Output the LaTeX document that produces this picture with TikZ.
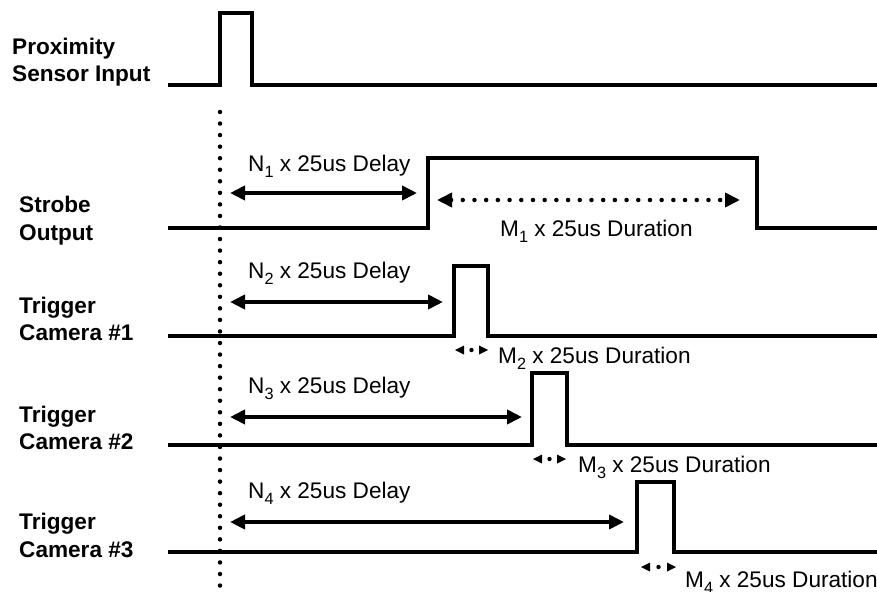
\documentclass[tikz,border=0pt]{standalone}
\usepackage{fontspec}
\setmainfont{Liberation Sans}
\usetikzlibrary{arrows.meta}
\newcommand\mysub[1]{\raisebox{-0.3em}{\scalebox{0.72}{#1}}}
\begin{document}
\begin{tikzpicture}[x=1pt,y=-1pt,
  sig/.style={line width=4pt,miter limit=10},
  lbl/.style={anchor=base west,inner sep=0pt,font=\fontsize{22.6}{27}\selectfont\bfseries},
  note/.style={anchor=base west,inner sep=0pt,font=\fontsize{22.6}{27}\selectfont},
  delay/.style={line width=4pt,{Triangle[length=15pt,width=14pt]}-{Triangle[length=15pt,width=14pt]}},
  durdots/.style={line width=4.5pt,line cap=round,dash pattern=on 0pt off 11.7pt,
    {Triangle[length=15pt,width=14pt]}-{Triangle[length=15pt,width=14pt]}},
  refline/.style={line width=4.5pt,line cap=round,dash pattern=on 0pt off 11.55pt}]
\useasboundingbox (0,0) rectangle (877,591);
\clip (0,0) rectangle (877,591);
\fill[white] (0,0) rectangle (877,591);

% left labels
\node[lbl] (l1a) at (12,55) {Proximity};
\node[lbl] (l1b) at (12,82) {Sensor Input};
\node[lbl] (l2a) at (19,212) {Strobe};
\node[lbl] (l2b) at (19,240) {Output};
\node[lbl] (l3a) at (19,313) {Trigger};
\node[lbl] (l3b) at (19,340) {Camera \#1};
\node[lbl] (l4a) at (19,422) {Trigger};
\node[lbl] (l4b) at (19,449) {Camera \#2};
\node[lbl] (l5a) at (19,529) {Trigger};
\node[lbl] (l5b) at (19,557) {Camera \#3};

% signals
\draw[sig] (168,85) -- (220,85) -- (220,13) -- (252,13) -- (252,85) -- (880,85);
\draw[sig] (168,228) -- (428,228) -- (428,158) -- (757,158) -- (757,228) -- (880,228);
\draw[sig] (168,336) -- (454,336) -- (454,266) -- (488,266) -- (488,336) -- (880,336);
\draw[sig] (168,445) -- (532,445) -- (532,373) -- (567,373) -- (567,445) -- (880,445);
\draw[sig] (168,552) -- (637,552) -- (637,482) -- (674,482) -- (674,552) -- (880,552);

% reference dotted line
\coordinate (rtop) at (220,112);
\coordinate (rbot) at (220,595);
\draw[refline] (rtop) -- (rbot);

% delay arrows
\coordinate (d1a) at (230,193); \coordinate (d1b) at (417,193);
\coordinate (d2a) at (230,302); \coordinate (d2b) at (443,302);
\coordinate (d3a) at (230,417); \coordinate (d3b) at (522,417);
\coordinate (d4a) at (230,522); \coordinate (d4b) at (624,522);
\draw[delay] (d1a) -- (d1b);
\draw[delay] (d2a) -- (d2b);
\draw[delay] (d3a) -- (d3b);
\draw[delay] (d4a) -- (d4b);

\node[note] (n1) at (248,171) {N\mysub{1} x 25us Delay};
\node[note] (n2) at (248,278) {N\mysub{2} x 25us Delay};
\node[note] (n3) at (248,393) {N\mysub{3} x 25us Delay};
\node[note] (n4) at (248,498) {N\mysub{4} x 25us Delay};

% strobe duration
\coordinate (m1a) at (437,200); \coordinate (m1b) at (740,200);
\draw[durdots] (m1a) -- (m1b);
\node[note] (t1) at (500,236) {M\mysub{1} x 25us Duration};

% small duration markers
\foreach \xa/\xb/\yy in {455/488/350, 533/566/459, 641/676/567}{
  \fill (\xa,\yy) -- (\xa+9,\yy-4.5) -- (\xa+9,\yy+4.5) -- cycle;
  \fill (\xb,\yy) -- (\xb-9,\yy-4.5) -- (\xb-9,\yy+4.5) -- cycle;
  \fill ({(\xa+\xb)/2},\yy) circle (2.2);
}
\node[note] (t2) at (498,363) {M\mysub{2} x 25us Duration};
\node[note] (t3) at (578,472) {M\mysub{3} x 25us Duration};
\node[note] (t4) at (685,587) {M\mysub{4} x 25us Duration};
\end{tikzpicture}
\end{document}
